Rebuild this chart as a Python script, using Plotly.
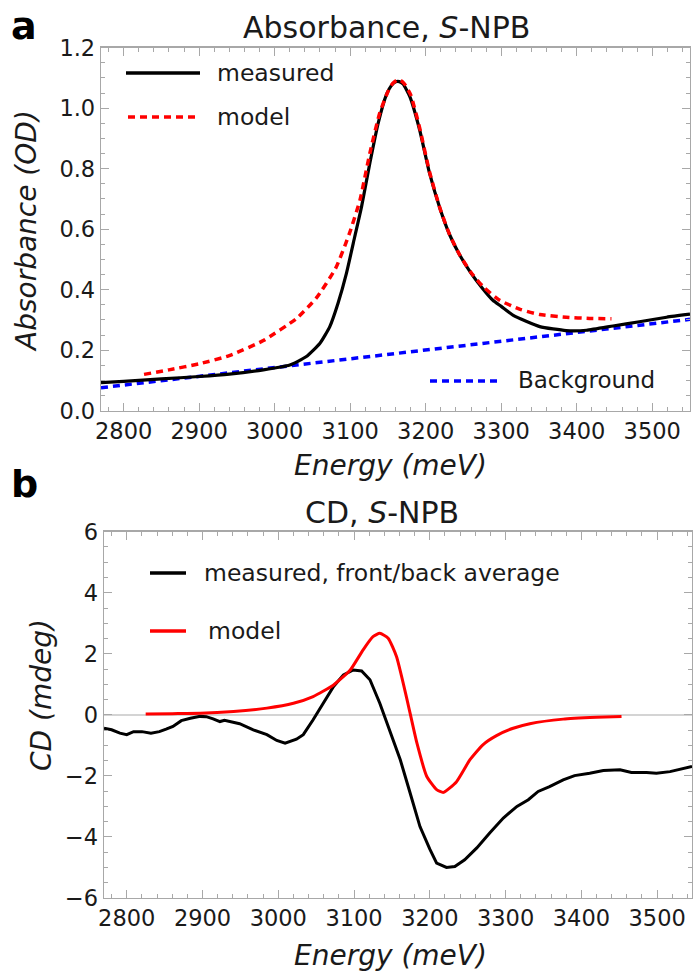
import plotly.graph_objects as go

# ---------------- data ----------------
# Panel a: absorbance
energy_abs_measured = [2770, 2800, 2850, 2900, 2940, 2985, 3020, 3042, 3060, 3073, 3084, 3095,
                       3106, 3115, 3126, 3137, 3148, 3154, 3160, 3165, 3170, 3179, 3192, 3205,
                       3219, 3232, 3245, 3260, 3275, 3289, 3300, 3316, 3351, 3386, 3413, 3448,
                       3483, 3519, 3550]
absorbance_measured = [0.093, 0.097, 0.105, 0.113, 0.121, 0.135, 0.151, 0.179, 0.223, 0.278, 0.356,
                       0.454, 0.575, 0.674, 0.818, 0.950, 1.045, 1.073, 1.087, 1.088, 1.080, 1.038,
                       0.928, 0.786, 0.668, 0.580, 0.515, 0.455, 0.405, 0.365, 0.345, 0.315, 0.278,
                       0.265, 0.266, 0.280, 0.294, 0.309, 0.319]

energy_abs_model = [2827, 2860, 2900, 2940, 2985, 3029, 3055, 3081, 3099, 3113, 3126, 3139, 3150,
                    3156, 3162, 3167, 3172, 3180, 3192, 3205, 3219, 3232, 3245, 3260, 3276, 3298,
                    3325, 3351, 3386, 3417, 3446]
absorbance_model = [0.120, 0.135, 0.155, 0.182, 0.232, 0.305, 0.372, 0.472, 0.586, 0.697, 0.851,
                    0.983, 1.055, 1.081, 1.093, 1.091, 1.080, 1.045, 0.935, 0.790, 0.668, 0.580,
                    0.515, 0.457, 0.410, 0.365, 0.335, 0.318, 0.309, 0.305, 0.304]

energy_background = [2770, 3550]
absorbance_background = [0.076, 0.302]

# Panel b: circular dichroism
energy_cd_measured = [2770, 2780, 2791, 2800, 2809, 2820, 2832, 2843, 2852, 2861, 2872, 2884, 2897,
                      2905, 2914, 2923, 2929, 2938, 2949, 2967, 2985, 2998, 3009, 3024, 3033, 3046,
                      3059, 3073, 3086, 3099, 3110, 3121, 3134, 3147, 3161, 3174, 3187, 3200, 3209,
                      3222, 3233, 3246, 3262, 3279, 3297, 3315, 3330, 3343, 3358, 3376, 3391, 3411,
                      3429, 3451, 3466, 3486, 3499, 3517, 3534, 3546]
cd_measured = [-0.44, -0.49, -0.60, -0.65, -0.55, -0.55, -0.60, -0.55, -0.47, -0.38, -0.19, -0.11,
               -0.05, -0.06, -0.13, -0.22, -0.18, -0.22, -0.29, -0.49, -0.65, -0.84, -0.93, -0.80,
               -0.65, -0.16, 0.38, 0.93, 1.31, 1.47, 1.44, 1.15, 0.38, -0.49, -1.47, -2.56, -3.66,
               -4.40, -4.86, -5.00, -4.97, -4.75, -4.36, -3.87, -3.38, -3.00, -2.78, -2.51, -2.35,
               -2.13, -1.99, -1.91, -1.82, -1.80, -1.89, -1.89, -1.91, -1.86, -1.75, -1.69]

energy_cd_model = [2825, 2860, 2897, 2941, 2985, 3020, 3046, 3073, 3095, 3112, 3125, 3134, 3145,
                   3156, 3169, 3183, 3196, 3209, 3218, 3235, 3253, 3270, 3288, 3310, 3332, 3376,
                   3420, 3453]
cd_model = [0.03, 0.04, 0.05, 0.11, 0.22, 0.38, 0.60, 0.98, 1.47, 2.13, 2.56, 2.67, 2.51, 1.91,
            0.60, -0.93, -2.02, -2.45, -2.54, -2.20, -1.47, -0.98, -0.68, -0.44, -0.29, -0.14,
            -0.08, -0.05]

# ---------------- figure ----------------
W, H = 693, 972
FONT = "DejaVu Sans"
FRAME = "#a8a8a8"
TXT = "#1a1a1a"


def px(x):
    return x / W


def py(y):
    return 1 - y / H


fig = go.Figure()

fig.add_trace(go.Scatter(x=energy_background, y=absorbance_background, mode="lines",
                         line=dict(color="#0000ff", width=3.5, dash="7px,5px"),
                         xaxis="x", yaxis="y", showlegend=False))
fig.add_trace(go.Scatter(x=energy_abs_measured, y=absorbance_measured, mode="lines",
                         line=dict(color="black", width=3.2, shape="spline", smoothing=0.5),
                         xaxis="x", yaxis="y", showlegend=False))
fig.add_trace(go.Scatter(x=energy_abs_model, y=absorbance_model, mode="lines",
                         line=dict(color="#ff0000", width=3.5, dash="7px,5px", shape="spline",
                                   smoothing=0.5),
                         xaxis="x", yaxis="y", showlegend=False))

fig.add_trace(go.Scatter(x=energy_cd_measured, y=cd_measured, mode="lines",
                         line=dict(color="black", width=3),
                         xaxis="x2", yaxis="y2", showlegend=False))
fig.add_trace(go.Scatter(x=energy_cd_model, y=cd_model, mode="lines",
                         line=dict(color="#ff0000", width=3, shape="spline", smoothing=0.5),
                         xaxis="x2", yaxis="y2", showlegend=False))

axis_common = dict(
    showline=True, linecolor=FRAME, linewidth=1.3, mirror="ticks",
    ticks="inside", ticklen=8, tickwidth=1, tickcolor=FRAME,
    showgrid=False, zeroline=False, automargin=False,
    tickfont=dict(family=FONT, size=22.5, color=TXT),
)

fig.update_layout(
    template="none",
    width=W, height=H,
    margin=dict(l=0, r=0, t=0, b=0, pad=0),
    paper_bgcolor="white", plot_bgcolor="white",
    xaxis=dict(axis_common, domain=[px(101), px(690)], range=[2770, 3550],
               tick0=2800, dtick=100,
               minor=dict(ticks="inside", ticklen=4, dtick=20, tickcolor=FRAME), anchor="y"),
    yaxis=dict(axis_common, domain=[py(410.7), py(47.7)], range=[0, 1.2], dtick=0.2,
               tickformat=".1f",
               minor=dict(ticks="inside", ticklen=4, dtick=0.05, tickcolor=FRAME), anchor="x"),
    xaxis2=dict(axis_common, domain=[px(104), px(692)], range=[2770, 3546],
                tick0=2800, dtick=100,
                minor=dict(ticks="inside", ticklen=4, dtick=20, tickcolor=FRAME), anchor="y2"),
    yaxis2=dict(axis_common, domain=[py(898), py(531.7)], range=[-6, 6], dtick=2,
                zeroline=True, zerolinecolor="#d4d4d4", zerolinewidth=2,
                minor=dict(ticks="inside", ticklen=4, dtick=0.5, tickcolor=FRAME), anchor="x2"),
)

ann = []


def text(x, y, s, size, xanchor="center", angle=0, bold=False):
    ann.append(dict(x=px(x), y=py(y), xref="paper", yref="paper", text=s, showarrow=False,
                    xanchor=xanchor, yanchor="middle", textangle=angle,
                    font=dict(family=FONT, size=size, color=TXT if not bold else "black",
                              weight="bold" if bold else "normal")))


# panel labels and titles
text(24, 26, "a", 38, bold=True)
text(24, 484, "b", 38, bold=True)
text(386, 27, "Absorbance, <i>S</i>-NPB", 30)
text(382, 512, "CD, <i>S</i>-NPB", 30)
text(391, 465, "<i>Energy (meV)</i>", 28)
text(391, 955, "<i>Energy (meV)</i>", 28)
text(27, 231, "<i>Absorbance (OD)</i>", 28, angle=-90)
text(41, 695, "<i>CD (mdeg)</i>", 28, angle=-90)

# legend texts
text(215, 73, "measured", 23.5, xanchor="left")
text(215, 117, "model", 23.5, xanchor="left")
text(516, 380, "Background", 23, xanchor="left")
text(202, 573, "measured, front/back average", 23.5, xanchor="left")
text(206, 631, "model", 23.5, xanchor="left")

fig.update_layout(annotations=ann)

# legend keys
shapes = [
    dict(type="line", xref="paper", yref="paper", x0=px(126), x1=px(200), y0=py(73), y1=py(73),
         line=dict(color="black", width=3.5)),
    dict(type="line", xref="paper", yref="paper", x0=px(128), x1=px(196), y0=py(117), y1=py(117),
         line=dict(color="#ff0000", width=3.5, dash="7px,5px")),
    dict(type="line", xref="paper", yref="paper", x0=px(430), x1=px(499), y0=py(381), y1=py(381),
         line=dict(color="#0000ff", width=3.5, dash="7px,5px")),
    dict(type="line", xref="paper", yref="paper", x0=px(150), x1=px(186), y0=py(573), y1=py(573),
         line=dict(color="black", width=3.5)),
    dict(type="line", xref="paper", yref="paper", x0=px(150), x1=px(186), y0=py(631), y1=py(631),
         line=dict(color="#ff0000", width=3.5)),
]
fig.update_layout(shapes=shapes)

fig.write_html("out.html", config={"displayModeBar": False, "staticPlot": True},
               post_script="document.body.style.margin='0px';document.body.style.overflow='hidden';")
